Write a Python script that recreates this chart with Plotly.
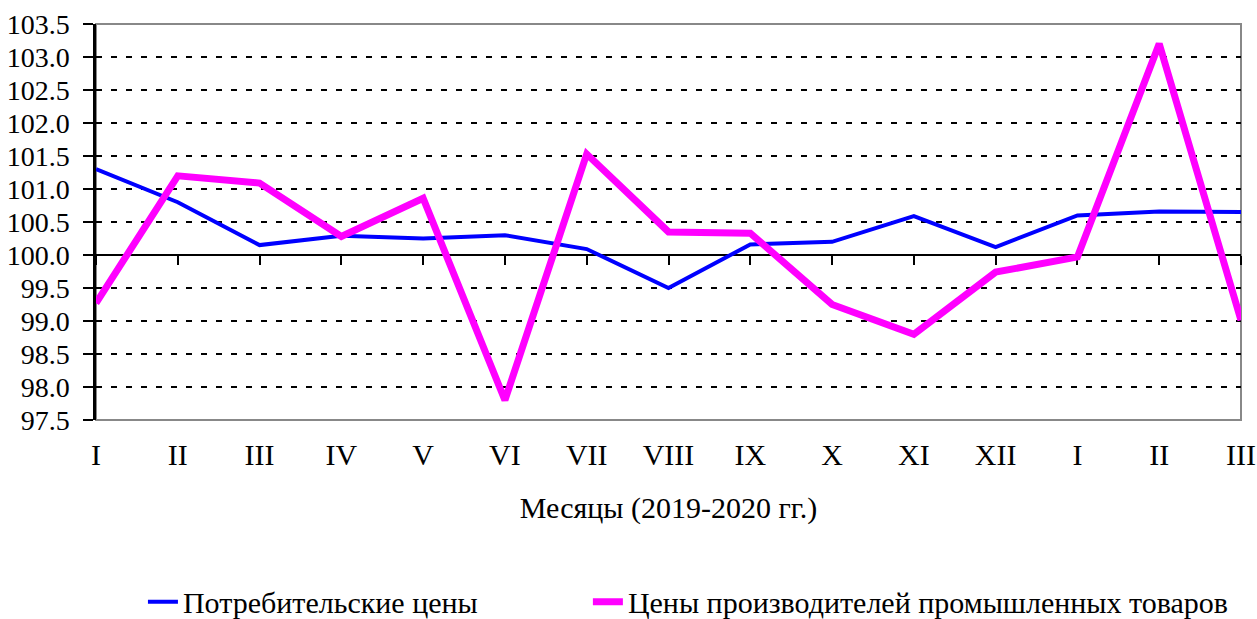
import plotly.graph_objects as go

months = ["I", "II", "III", "IV", "V", "VI", "VII", "VIII", "IX", "X", "XI", "XII", "I", "II", "III"]
consumer = [101.30, 100.80, 100.15, 100.29, 100.25, 100.30, 100.09, 99.50, 100.16, 100.20, 100.59, 100.12, 100.60, 100.66, 100.65]
producer = [99.27, 101.20, 101.09, 100.28, 100.86, 97.80, 101.53, 100.35, 100.33, 99.25, 98.80, 99.74, 99.97, 103.20, 99.01]
y_tick_vals = [97.5, 98.0, 98.5, 99.0, 99.5, 100.0, 100.5, 101.0, 101.5, 102.0, 102.5, 103.0, 103.5]
x_title = "Месяцы (2019-2020 гг.)"
name_consumer = "Потребительские цены"
name_producer = "Цены производителей промышленных товаров"

FONT = "Liberation Serif"
FS = 30
FS_Y = 28
idx = list(range(len(months)))
ymin, ymax = 97.5, 103.5
base = 100.0
LEG_Y = -0.459

fig = go.Figure()
fig.add_trace(go.Scatter(x=idx, y=consumer, mode="lines", name=name_consumer,
                         line=dict(color="#0000FF", width=4), xaxis="x", yaxis="y",
                         legend="legend"))
fig.add_trace(go.Scatter(x=idx, y=producer, mode="lines", name=name_producer,
                         line=dict(color="#FF00FF", width=7), xaxis="x2", yaxis="y",
                         legend="legend2"))

leg_common = dict(orientation="h", xanchor="left", yanchor="middle", y=LEG_Y,
                  font=dict(family=FONT, size=FS, color="black"),
                  bgcolor="rgba(0,0,0,0)")

fig.update_layout(
    width=1257, height=619,
    margin=dict(l=96, r=16, t=24, b=199, autoexpand=False),
    paper_bgcolor="white", plot_bgcolor="white",
    font=dict(family=FONT, size=FS, color="black"),
    showlegend=True,
    legend=dict(x=0.041, **leg_common),
    legend2=dict(x=0.4296, **leg_common),
    xaxis=dict(range=[0, len(months) - 1], tickmode="array", tickvals=idx, ticktext=months,
               showgrid=False, zeroline=False, showline=False, automargin=False,
               ticks="outside", ticklen=8, tickcolor="rgba(0,0,0,0)",
               tickfont=dict(family=FONT, size=FS),
               title=dict(text=x_title, standoff=26, font=dict(family=FONT, size=FS))),
    xaxis2=dict(range=[0, len(months) - 1], overlaying="x", anchor="free",
                position=(base - ymin) / (ymax - ymin), automargin=False,
                tickmode="array", tickvals=idx, showticklabels=False,
                ticks="outside", ticklen=9, tickwidth=2, tickcolor="black",
                showline=True, linecolor="black", linewidth=2,
                showgrid=False, zeroline=False, layer="below traces"),
    yaxis=dict(range=[ymin, ymax], tickmode="array", tickvals=y_tick_vals,
               tickformat=".1f", showgrid=True, gridcolor="black", gridwidth=2,
               griddash="6px,9px", zeroline=False, automargin=False,
               showline=True, linecolor="black", linewidth=2.5,
               ticks="outside", ticklen=10, tickwidth=2, tickcolor="black",
               ticklabelstandoff=8, tickfont=dict(family=FONT, size=FS_Y)),
    shapes=[dict(type="rect", xref="paper", yref="paper", x0=0, x1=1, y0=0, y1=1,
                 line=dict(color="#888888", width=2), layer="between")],
)

fig.write_html("out.html",
               config={"displayModeBar": False},
               post_script="document.body.style.margin='0';document.body.style.overflow='hidden';")
